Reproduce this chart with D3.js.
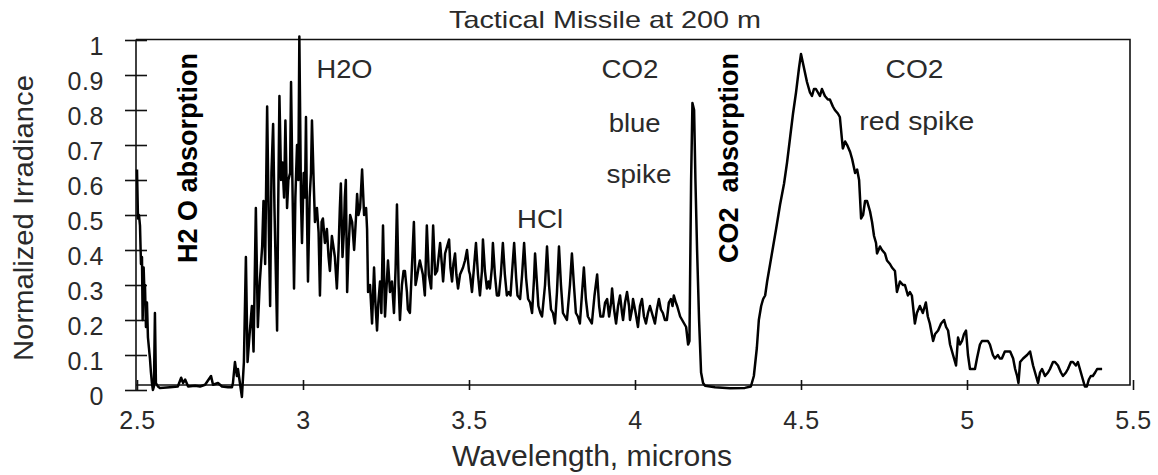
<!DOCTYPE html>
<html>
<head>
<meta charset="utf-8">
<script src="https://cdn.jsdelivr.net/npm/d3@7"></script>
<style>
  html, body { margin: 0; padding: 0; background: #fff; }
  svg text { font-family: "Liberation Sans", Arial, sans-serif; fill: #2a2a2a; }
</style>
</head>
<body>
<div id="chart"></div>
<script>
// axis ticks
var xTicks = [2.5, 3, 3.5, 4, 4.5, 5, 5.5];
var yTicks = [0, 0.1, 0.2, 0.3, 0.4, 0.5, 0.6, 0.7, 0.8, 0.9, 1];

// spectrum, [wavelength (microns), normalized irradiance]
// short wavelength edge and the H2O absorption gap
var edgeBand = [[2.500,0.63],[2.503,0.49],[2.506,0.50],[2.509,0.47],[2.512,0.36],[2.515,0.38],[2.517,0.20],[2.520,0.35],[2.523,0.26],[2.524,0.30],[2.527,0.18],[2.530,0.25],[2.533,0.15],[2.536,0.12],[2.539,0.09],[2.542,0.05],[2.545,0.02],[2.548,0.00],[2.551,0.01],[2.554,0.22],[2.557,0.02],[2.563,0.01],[2.569,0.006],[2.599,0.008],[2.623,0.010],[2.633,0.035],[2.639,0.020],[2.645,0.030],[2.654,0.010],[2.675,0.012],[2.690,0.010],[2.705,0.015],[2.723,0.040],[2.729,0.015],[2.744,0.020],[2.756,0.010],[2.774,0.008],[2.786,0.008]];

// H2O emission band
var h2oBand = [[2.789,0.02],[2.795,0.08],[2.801,0.04],[2.804,0.06],[2.810,0.02],[2.816,-0.02],[2.822,0.08],[2.828,0.38],[2.833,0.08],[2.840,0.17],[2.846,0.24],[2.851,0.11],[2.858,0.52],[2.864,0.18],[2.870,0.31],[2.877,0.41],[2.881,0.54],[2.886,0.36],[2.892,0.81],[2.898,0.40],[2.901,0.24],[2.905,0.62],[2.910,0.76],[2.914,0.52],[2.919,0.30],[2.922,0.17],[2.925,0.50],[2.929,0.84],[2.934,0.60],[2.938,0.65],[2.943,0.55],[2.947,0.77],[2.952,0.52],[2.956,0.60],[2.961,0.62],[2.964,0.88],[2.968,0.60],[2.973,0.29],[2.977,0.55],[2.982,0.70],[2.986,0.60],[2.989,1.01],[2.994,0.54],[2.997,0.42],[3.002,0.62],[3.006,0.55],[3.009,0.78],[3.012,0.50],[3.015,0.31],[3.020,0.55],[3.024,0.62],[3.027,0.77],[3.032,0.60],[3.036,0.48],[3.042,0.52],[3.047,0.45],[3.051,0.27],[3.056,0.48],[3.060,0.49],[3.066,0.42],[3.072,0.46],[3.077,0.38],[3.081,0.34],[3.087,0.44],[3.090,0.42],[3.096,0.38],[3.102,0.29],[3.107,0.40],[3.111,0.52],[3.114,0.59],[3.119,0.38],[3.123,0.45],[3.126,0.55],[3.129,0.60],[3.133,0.28],[3.137,0.40],[3.142,0.50],[3.148,0.48],[3.154,0.40],[3.160,0.50],[3.163,0.56],[3.167,0.50],[3.172,0.52],[3.178,0.63],[3.184,0.50],[3.190,0.52],[3.193,0.46],[3.196,0.28],[3.202,0.30],[3.208,0.19],[3.214,0.35],[3.218,0.25],[3.223,0.17],[3.227,0.25],[3.232,0.31],[3.236,0.22],[3.241,0.47],[3.247,0.21],[3.252,0.30],[3.256,0.37],[3.262,0.28],[3.268,0.31],[3.274,0.22],[3.279,0.35],[3.283,0.53],[3.288,0.30],[3.292,0.20],[3.298,0.30],[3.303,0.34],[3.307,0.34],[3.313,0.28],[3.316,0.23],[3.322,0.22],[3.328,0.35],[3.334,0.48],[3.339,0.30],[3.343,0.32],[3.348,0.35]];

// HCl line comb
var hclBand = [[3.352,0.37],[3.361,0.33],[3.367,0.27],[3.373,0.47],[3.379,0.33],[3.386,0.29],[3.392,0.47],[3.398,0.33],[3.404,0.34],[3.413,0.42],[3.419,0.35],[3.422,0.31],[3.428,0.39],[3.434,0.41],[3.440,0.43],[3.444,0.35],[3.449,0.31],[3.453,0.36],[3.458,0.39],[3.462,0.33],[3.467,0.29],[3.473,0.33],[3.482,0.35],[3.488,0.37],[3.494,0.40],[3.500,0.34],[3.503,0.33],[3.509,0.28],[3.515,0.35],[3.521,0.42],[3.527,0.33],[3.533,0.27],[3.539,0.34],[3.542,0.43],[3.548,0.34],[3.554,0.29],[3.559,0.31],[3.563,0.29],[3.569,0.35],[3.572,0.42],[3.578,0.33],[3.584,0.27],[3.590,0.27],[3.596,0.33],[3.602,0.42],[3.608,0.33],[3.614,0.27],[3.620,0.28],[3.625,0.27],[3.630,0.34],[3.636,0.42],[3.642,0.32],[3.646,0.27],[3.654,0.26],[3.660,0.33],[3.666,0.42],[3.672,0.32],[3.678,0.26],[3.684,0.25],[3.690,0.22],[3.696,0.32],[3.699,0.39],[3.705,0.30],[3.709,0.24],[3.715,0.22],[3.720,0.21],[3.729,0.30],[3.735,0.41],[3.741,0.30],[3.747,0.23],[3.753,0.22],[3.759,0.19],[3.765,0.28],[3.771,0.41],[3.777,0.30],[3.783,0.22],[3.789,0.21],[3.795,0.20],[3.804,0.30],[3.810,0.39],[3.816,0.30],[3.822,0.22],[3.828,0.21],[3.834,0.19],[3.840,0.27],[3.846,0.35],[3.852,0.26],[3.858,0.21],[3.864,0.20],[3.870,0.19],[3.878,0.27],[3.886,0.33],[3.892,0.24],[3.896,0.21],[3.904,0.21],[3.910,0.25],[3.916,0.26],[3.922,0.21],[3.928,0.25],[3.931,0.29],[3.937,0.23],[3.943,0.19],[3.949,0.24],[3.955,0.27],[3.961,0.22],[3.964,0.20],[3.970,0.25],[3.976,0.28],[3.982,0.24],[3.985,0.20],[3.991,0.23],[3.994,0.26],[4.002,0.22],[4.009,0.18],[4.015,0.24],[4.021,0.26],[4.027,0.21],[4.033,0.19],[4.039,0.22],[4.045,0.24],[4.051,0.22],[4.060,0.19],[4.066,0.23],[4.072,0.26],[4.078,0.23],[4.084,0.22],[4.090,0.20],[4.096,0.20],[4.102,0.25],[4.108,0.26],[4.113,0.24],[4.117,0.27],[4.123,0.25],[4.127,0.24],[4.136,0.21],[4.142,0.20],[4.148,0.19],[4.154,0.18],[4.160,0.13]];

// CO2 blue spike and CO2 absorption gap
var blueSpike = [[4.164,0.14],[4.169,0.60],[4.173,0.82],[4.178,0.80],[4.182,0.60],[4.187,0.40],[4.193,0.20],[4.199,0.05],[4.205,0.02],[4.211,0.012],[4.241,0.008],[4.286,0.005],[4.331,0.006],[4.349,0.01]];

// CO2 red spike and tail
var redSpike = [[4.358,0.04],[4.367,0.12],[4.373,0.20],[4.380,0.24],[4.386,0.26],[4.392,0.27],[4.398,0.31],[4.407,0.36],[4.416,0.41],[4.425,0.46],[4.437,0.53],[4.449,0.59],[4.458,0.65],[4.467,0.72],[4.476,0.79],[4.485,0.85],[4.494,0.92],[4.500,0.96],[4.509,0.92],[4.518,0.88],[4.527,0.85],[4.533,0.84],[4.539,0.86],[4.545,0.86],[4.551,0.85],[4.557,0.84],[4.563,0.86],[4.572,0.84],[4.581,0.83],[4.587,0.83],[4.596,0.81],[4.602,0.80],[4.611,0.79],[4.617,0.78],[4.623,0.72],[4.626,0.69],[4.633,0.71],[4.639,0.70],[4.648,0.68],[4.654,0.66],[4.663,0.62],[4.669,0.63],[4.675,0.60],[4.681,0.49],[4.687,0.50],[4.693,0.54],[4.699,0.54],[4.708,0.51],[4.714,0.48],[4.720,0.44],[4.726,0.42],[4.729,0.39],[4.738,0.41],[4.744,0.40],[4.753,0.39],[4.759,0.37],[4.768,0.36],[4.774,0.35],[4.783,0.34],[4.789,0.28],[4.798,0.31],[4.807,0.30],[4.813,0.30],[4.822,0.27],[4.828,0.28],[4.834,0.27],[4.843,0.19],[4.849,0.22],[4.858,0.24],[4.867,0.22],[4.876,0.25],[4.882,0.21],[4.888,0.19],[4.898,0.14],[4.904,0.16],[4.913,0.17],[4.922,0.19],[4.931,0.20],[4.937,0.18],[4.943,0.17],[4.949,0.13],[4.955,0.11],[4.961,0.09],[4.967,0.07],[4.973,0.15],[4.979,0.13],[4.985,0.14],[4.991,0.16],[4.997,0.17],[5.003,0.10],[5.009,0.06],[5.018,0.06],[5.024,0.06],[5.030,0.09],[5.039,0.13],[5.045,0.14],[5.054,0.14],[5.063,0.14],[5.069,0.13],[5.078,0.10],[5.084,0.09],[5.093,0.10],[5.099,0.09],[5.105,0.09],[5.114,0.11],[5.123,0.11],[5.130,0.11],[5.139,0.09],[5.145,0.06],[5.151,0.04],[5.155,0.02],[5.160,0.08],[5.169,0.09],[5.181,0.10],[5.190,0.11],[5.199,0.07],[5.208,0.04],[5.214,0.02],[5.220,0.05],[5.226,0.06],[5.235,0.04],[5.244,0.05],[5.250,0.06],[5.259,0.08],[5.265,0.08],[5.274,0.07],[5.283,0.05],[5.289,0.04],[5.298,0.05],[5.304,0.06],[5.313,0.08],[5.319,0.08],[5.328,0.07],[5.334,0.08],[5.343,0.05],[5.349,0.03],[5.355,0.01],[5.361,0.01],[5.367,0.03],[5.373,0.04],[5.379,0.04],[5.386,0.05],[5.392,0.06],[5.401,0.06],[5.407,0.06]];

var spectrum = [].concat(edgeBand, h2oBand, hclBand, blueSpike, redSpike);

//size of the drawing
var width = 1158, height = 475;

var svg = d3.select('#chart').append('svg')
  .attr('width', width)
  .attr('height', height);

//scales
var x = d3.scaleLinear().domain([2.5, 5.5]).range([137, 1133]);
var y = d3.scaleLinear().domain([0, 1]).range([390, 40]);

var frameLeft = 136, frameRight = 1130, frameTop = 39.5, axisY = 385;
var tickFmt = d3.format('~g');

//plot frame
svg.append('path')
  .attr('d', 'M' + frameLeft + ',' + frameTop + 'H' + frameRight + 'V' + axisY + 'H' + frameLeft)
  .attr('fill', 'none')
  .attr('stroke', '#111')
  .attr('stroke-width', 1.6);

//y axis, ticks cross the axis line
var yAxis = svg.append('g')
  .attr('transform', 'translate(' + frameLeft + ',0)')
  .call(d3.axisLeft(y).tickValues(yTicks).tickFormat(tickFmt).tickSizeInner(11).tickSizeOuter(0).tickPadding(21));
yAxis.select('.domain').attr('d', 'M0,' + frameTop + 'V' + y(0)).attr('stroke', '#111').attr('stroke-width', 1.6);
yAxis.selectAll('.tick line').attr('x1', 11).attr('stroke', '#111').attr('stroke-width', 1.6);
yAxis.selectAll('.tick text')
  .attr('dy', '0.56em')
  .style('font-size', '25px')
  .style('letter-spacing', '0.6px')
  .style('font-family', '"Liberation Sans", Arial, sans-serif')
  .attr('fill', '#2a2a2a');

//x axis
var xAxis = svg.append('g')
  .attr('transform', 'translate(0,' + axisY + ')')
  .call(d3.axisBottom(x).tickValues(xTicks).tickFormat(tickFmt).tickSizeInner(5).tickSizeOuter(0));
xAxis.select('.domain').remove();
xAxis.selectAll('.tick line').attr('y1', -5).attr('stroke', '#111').attr('stroke-width', 1.6);
xAxis.selectAll('.tick text')
  .attr('y', 44)
  .attr('dy', 0)
  .style('font-size', '25px')
  .style('letter-spacing', '0.6px')
  .style('font-family', '"Liberation Sans", Arial, sans-serif')
  .attr('fill', '#2a2a2a');

//spectrum line
var line = d3.line()
  .x(function(d) { return x(d[0]); })
  .y(function(d) { return y(d[1]); });

svg.append('path')
  .datum(spectrum)
  .attr('fill', 'none')
  .attr('stroke', '#000')
  .attr('stroke-width', 2.5)
  .attr('stroke-linejoin', 'round')
  .attr('d', line);

//helper for the labels
function label(txt, px, py, size, len, opts) {
  opts = opts || {};
  var t = svg.append('text')
    .attr('text-anchor', 'middle')
    .style('font-size', size + 'px')
    .style('white-space', 'pre')
    .text(txt);
  if (len) t.attr('textLength', len).attr('lengthAdjust', 'spacingAndGlyphs');
  if (opts.bold) t.style('font-weight', 'bold').style('fill', '#000');
  if (opts.rotate) {
    t.attr('transform', 'translate(' + px + ',' + py + ') rotate(-90)');
  } else {
    t.attr('x', px).attr('y', py);
  }
  return t;
}

//titles
label('Tactical Missile at 200 m', 605, 28, 24, 312);
label('Wavelength, microns', 592, 466, 29, 280);
label('Normalized Irradiance', 33, 218, 27, 286, {rotate: true});

//band annotations
label('H2O', x(3.125), 78, 25, 56);
label('CO2', x(3.985), 78, 25, 57);
label('blue', x(3.999), 132, 25, 52);
label('spike', x(4.012), 183, 25, 65);
label('HCl', x(3.714), 228, 25, 46);
label('CO2', x(4.842), 78, 25, 58);
label('red spike', x(4.849), 130, 25, 115);
label('H2 O absorption', 197, 158, 28, 210, {rotate: true, bold: true});
label('CO2  absorption', 738, 158, 28, 210, {rotate: true, bold: true});
</script>
</body>
</html>
